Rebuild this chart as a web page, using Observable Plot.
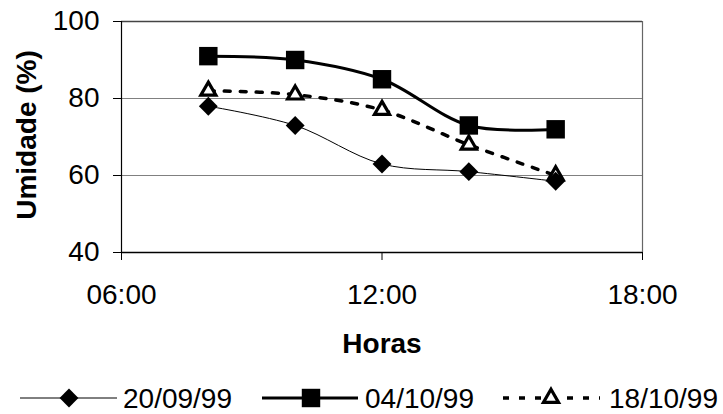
<!DOCTYPE html>
<html>
<head>
<meta charset="utf-8">
<script src="https://cdn.jsdelivr.net/npm/d3@7"></script>
<script src="https://cdn.jsdelivr.net/npm/@observablehq/plot@0.6"></script>
<style>
  html, body { margin: 0; padding: 0; background: #fff; }
  #wrap { position: relative; width: 723px; height: 414px; font-family: "Liberation Sans", Arial, sans-serif; }
  #legend { position: absolute; left: 0; top: 370px; }
</style>
</head>
<body>
<div id="wrap"><div id="chart"></div><svg id="legend" width="723" height="44"></svg></div>
<script>
// ---- data ----
const hours = [8, 10, 12, 14, 16];            // hora do dia
const seriesNames = ["20/09/99", "04/10/99", "18/10/99"];
const s20_09 = [78, 73, 63, 61, 58.5];
const s04_10 = [91, 90, 85, 73, 72];
const s18_10 = [82, 81, 77, 68, 60];
const xTicks = [6, 12, 18];
const yTicks = [40, 60, 80, 100];
const yGrid = [60, 80];

const toRows = (vals, name) => hours.map((h, i) => ({h, v: vals[i], s: name}));
const d1 = toRows(s20_09, seriesNames[0]);
const d2 = toRows(s04_10, seriesNames[1]);
const d3s = toRows(s18_10, seriesNames[2]);

const fmt = h => String(h).padStart(2, "0") + ":00";
const FONT = "Liberation Sans, Arial, sans-serif";

const chart = Plot.plot({
  width: 723,
  height: 370,
  marginLeft: 121,
  marginRight: 81,
  marginTop: 21,
  marginBottom: 118,
  style: {fontFamily: FONT, background: "#fff", color: "#000"},
  x: {domain: [6, 18]},
  y: {domain: [40, 100]},
  marks: [
    Plot.ruleY(yGrid, {stroke: "#808080", strokeWidth: 1.2}),
    Plot.ruleY([100], {stroke: "#444", strokeWidth: 1.3}),
    Plot.ruleX([18], {stroke: "#666", strokeWidth: 1.2}),
    Plot.ruleX([6], {stroke: "#000", strokeWidth: 1.2}),
    Plot.ruleY([40], {stroke: "#000", strokeWidth: 1.5}),
    Plot.axisY({ticks: yTicks, tickSize: 8, tickPadding: 14, fontSize: 28, label: null, stroke: "#000"}),
    Plot.axisX({ticks: xTicks, tickFormat: fmt, tickSize: 8, tickPadding: 24, fontSize: 28, label: null, stroke: "#000"}),
    Plot.text(["Umidade (%)"], {frameAnchor: "left", textAnchor: "middle", lineAnchor: "middle", dx: -94, dy: -2, rotate: -90, fontSize: 28, fontWeight: "bold"}),
    Plot.text(["Horas"], {frameAnchor: "bottom", textAnchor: "middle", lineAnchor: "middle", dy: 92, fontSize: 28, fontWeight: "bold"}),
    Plot.line(d1, {x: "h", y: "v", curve: "catmull-rom", stroke: "#000", strokeWidth: 1}),
    Plot.line(d2, {x: "h", y: "v", curve: "catmull-rom", stroke: "#000", strokeWidth: 3}),
    Plot.line(d3s, {x: "h", y: "v", curve: "catmull-rom", stroke: "#000", strokeWidth: 3.5, strokeDasharray: "6,10"}),
    Plot.dot(d3s, {x: "h", y: "v", symbol: "triangle", r: 5.6, fill: "#fff", stroke: "#000", strokeWidth: 3.2}),
    Plot.dot(d2, {x: "h", y: "v", symbol: "square", r: 10.4, fill: "#000", stroke: "none"}),
    Plot.dot(d1, {x: "h", y: "v", symbol: "diamond2", r: 8.5, fill: "#000", stroke: "none"})
  ]
});
document.getElementById("chart").appendChild(chart);

// ---- legend ----
const leg = d3.select("#legend");
const ly = 28;
const items = [
  {name: seriesNames[0], x0: 20, x1: 117, mx: 69, tx: 123, sw: 1, dash: null, sym: d3.symbolDiamond2, size: Math.PI * 8.5 * 8.5, fill: "#000", stroke: "none", ssw: 0},
  {name: seriesNames[1], x0: 262, x1: 358, mx: 311, tx: 365, sw: 3, dash: null, sym: d3.symbolSquare, size: Math.PI * 10.4 * 10.4, fill: "#000", stroke: "none", ssw: 0},
  {name: seriesNames[2], x0: 503, x1: 600, mx: 551, tx: 609, sw: 3.5, dash: "6,10", sym: d3.symbolTriangle, size: Math.PI * 5.6 * 5.6, fill: "#fff", stroke: "#000", ssw: 3.2}
];
for (const it of items) {
  leg.append("line").attr("x1", it.x0).attr("x2", it.x1).attr("y1", ly).attr("y2", ly)
    .attr("stroke", "#000").attr("stroke-width", it.sw).attr("stroke-dasharray", it.dash);
  leg.append("path").attr("d", d3.symbol(it.sym, it.size)()).attr("transform", `translate(${it.mx},${ly})`)
    .attr("fill", it.fill).attr("stroke", it.stroke).attr("stroke-width", it.ssw);
  leg.append("text").attr("x", it.tx).attr("y", ly).attr("dy", "0.35em")
    .attr("font-family", FONT).attr("font-size", 28).attr("fill", "#000").text(it.name);
}
</script>
</body>
</html>
